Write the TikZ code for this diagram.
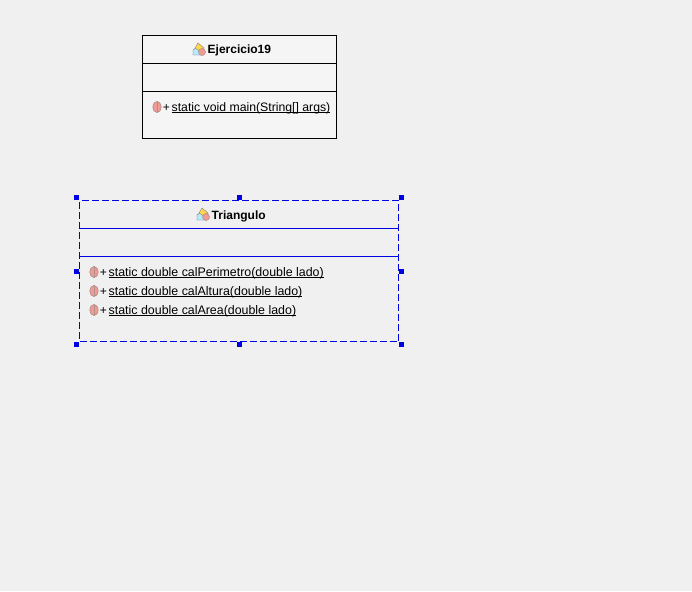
\documentclass[tikz,border=0pt]{standalone}
\usepackage{fontspec}
\setmainfont{Liberation Sans}
\usepackage{xcolor}
\usetikzlibrary{shapes}
\definecolor{panel}{HTML}{F0F0F0}
\definecolor{boxfill}{HTML}{F5F5F5}
\definecolor{selblue}{HTML}{0000E6}
\definecolor{pinkm}{HTML}{EE9C94}
\tikzset{
  x=1pt,y=-1pt,
  classbox/.style={rectangle, draw=black, fill=#1, line width=1pt, inner sep=0pt},
  selbox/.style={rectangle, draw=selblue, fill=#1, line width=1pt, dash pattern=on 7pt off 3pt, inner sep=0pt},
  handle/.style={rectangle, fill=selblue, minimum size=5.5pt, inner sep=0pt},
  classname/.style={font=\bfseries\fontsize{12}{14}\selectfont, anchor=base west, inner sep=0pt},
  method/.style={font=\fontsize{12.4}{14}\selectfont, anchor=base west, inner sep=0pt},
  plus/.style={font=\fontsize{12}{14}\selectfont, anchor=base, inner sep=0pt},
  bean/.style={ellipse, draw=gray!60!pinkm, fill=pinkm, line width=.6pt, minimum width=8.5pt, minimum height=11pt, inner sep=0pt}
}
% underline close to the baseline
\newcommand{\ulined}[1]{\setbox0=\hbox{#1}\rlap{\rule[-2pt]{\wd0}{1pt}}\box0}
% class icon: roof and box with a pink dot
\newcommand{\classicon}[3]{
\fill[blue!25!cyan!30!white,draw=gray!80!blue] (#2-6,#3+6) -- (#2-6,#3+1) -- (#2-2,#3-2) -- (#2+3,#3+6) -- cycle;
\fill[orange!45!yellow!70!white,draw=gray] (#2-4,#3-1) -- (#2-1,#3-6) -- (#2+5,#3-1) -- (#2+2,#3+3) -- cycle;
\node[circle, fill=pinkm, draw=gray!60!pinkm, line width=.5pt, minimum size=7pt, inner sep=0pt] (#1) at (#2+3,#3+3) {};
}
\begin{document}
\begin{tikzpicture}
\useasboundingbox[fill=panel] (0,0) rectangle (692,591);

% Ejercicio19
\node[classbox=boxfill, minimum width=194pt, minimum height=103pt] (ej) at (239.5,87) {};
\coordinate (ejl1) at (142.5,63.5);
\coordinate (ejr1) at (336.5,63.5);
\coordinate (ejl2) at (142.5,91.5);
\coordinate (ejr2) at (336.5,91.5);
\draw[line width=1pt] (ejl1) -- (ejr1);
\draw[line width=1pt] (ejl2) -- (ejr2);
\classicon{ejicon}{199}{49}
\node[classname] (ejname) at (207.5,54) {Ejercicio19};
\node[bean] (ejm) at (157,107) {};
\draw[gray!50!pinkm,line width=.5pt] (ejm.north) -- (ejm.south);
\node[plus] (ejp) at (166.5,111) {+};
\node[method, font=\fontsize{12.25}{14}\selectfont] (ejt) at (171.5,111) {\ulined{static void main(String[] args)}};

% Triangulo
\node[selbox=panel, minimum width=319pt, minimum height=141pt] (tr) at (239,271) {};
\coordinate (trl1) at (79.5,228.5);
\coordinate (trr1) at (398.5,228.5);
\coordinate (trl2) at (79.5,256.5);
\coordinate (trr2) at (398.5,256.5);
\draw[selblue,line width=1pt] (trl1) -- (trr1);
\draw[selblue,line width=1pt] (trl2) -- (trr2);
\classicon{tricon}{203}{214}
\node[classname] (trname) at (211.5,219) {Triangulo};
\node[bean] (m1) at (94,272) {};
\draw[gray!50!pinkm,line width=.5pt] (m1.north) -- (m1.south);
\node[plus] (p1) at (103.5,276) {+};
\node[method] (t1) at (108.5,276) {\ulined{static double calPerimetro(double lado)}};
\node[bean] (m2) at (94,291) {};
\draw[gray!50!pinkm,line width=.5pt] (m2.north) -- (m2.south);
\node[plus] (p2) at (103.5,295) {+};
\node[method] (t2) at (108.5,295) {\ulined{static double calAltura(double lado)}};
\node[bean] (m3) at (94,310) {};
\draw[gray!50!pinkm,line width=.5pt] (m3.north) -- (m3.south);
\node[plus] (p3) at (103.5,314) {+};
\node[method] (t3) at (108.5,314) {\ulined{static double calArea(double lado)}};

% handles
\node[handle] (h1) at (76.5,197.5) {};
\node[handle] (h2) at (239.5,197.5) {};
\node[handle] (h3) at (401.5,197.5) {};
\node[handle] (h4) at (76.5,271.5) {};
\node[handle] (h5) at (401.5,271.5) {};
\node[handle] (h6) at (76.5,344.5) {};
\node[handle] (h7) at (239.5,344.5) {};
\node[handle] (h8) at (401.5,344.5) {};
\end{tikzpicture}
\end{document}
